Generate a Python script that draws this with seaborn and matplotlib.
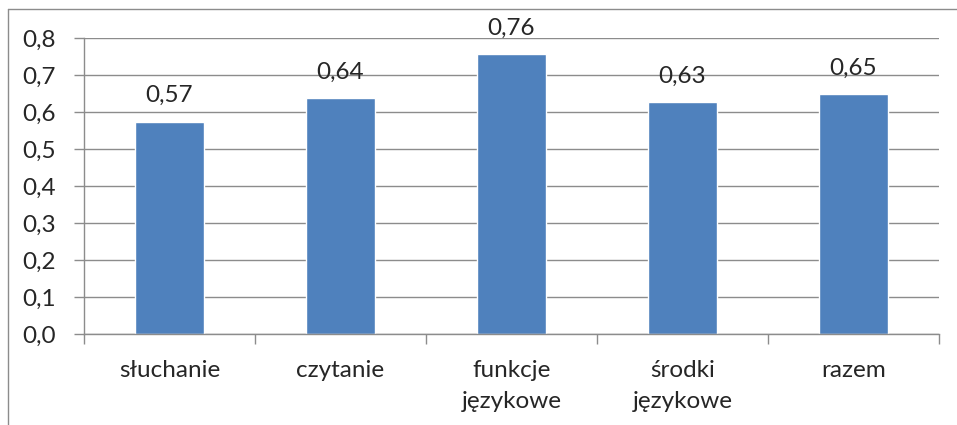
import matplotlib
matplotlib.use("Agg")
import matplotlib.pyplot as plt
from matplotlib.lines import Line2D
import seaborn as sns
import pandas as pd

categories = ["słuchanie", "czytanie", "funkcje\njęzykowe", "środki\njęzykowe", "razem"]
values = [0.574, 0.638, 0.756, 0.628, 0.648]
labels = ["0,57", "0,64", "0,76", "0,63", "0,65"]
yticks = [0.0, 0.1, 0.2, 0.3, 0.4, 0.5, 0.6, 0.7, 0.8]

sns.set_style("white")
plt.rcParams["font.family"] = ["Lato", "DejaVu Sans"]
fs = 17.5

df = pd.DataFrame({"cat": categories, "val": values})

fig = plt.figure(figsize=(9.57, 4.25), dpi=100)
ax = fig.add_axes([84 / 957, 1 - 334 / 425, (939 - 84) / 957, (334 - 38) / 425])

sns.barplot(data=df, x="cat", y="val", color="#4F81BD", width=0.4, ax=ax, saturation=1)

grid_c = "#8C8C8C"
ax.set_ylim(0, 0.8)
ax.set_xlim(-0.5, len(categories) - 0.5)
ax.set_yticks(yticks)
ax.set_yticklabels([f"{t:.1f}".replace(".", ",") for t in yticks], fontsize=fs)
ax.yaxis.grid(True, color=grid_c, linewidth=1)
ax.set_axisbelow(True)
ax.set_xlabel("")
ax.set_ylabel("")

for s in ["top", "right"]:
    ax.spines[s].set_visible(False)
for s in ["left", "bottom"]:
    ax.spines[s].set_color(grid_c)
    ax.spines[s].set_linewidth(1)

ax.tick_params(axis="y", left=True, length=7, width=1, color=grid_c, pad=13)
ax.set_xticks(range(len(categories)))
ax.set_xticklabels(categories, fontsize=fs, linespacing=1.55)
ax.tick_params(axis="x", which="major", length=0, pad=19)
ax.set_xticks([i - 0.5 for i in range(len(categories) + 1)], minor=True)
ax.tick_params(axis="x", which="minor", bottom=True, length=7, width=1, color=grid_c)

ax.bar_label(ax.containers[0], labels=labels, padding=11, fontsize=fs)

# outer chart frame (left and top edges visible in the crop)
fig.add_artist(Line2D([8 / 957, 8 / 957], [0, 1 - 9 / 425], transform=fig.transFigure,
                      color="#8C8C8C", linewidth=1))
fig.add_artist(Line2D([8 / 957, 1], [1 - 9 / 425, 1 - 9 / 425], transform=fig.transFigure,
                      color="#8C8C8C", linewidth=1))

fig.savefig("out.png", dpi=100)
